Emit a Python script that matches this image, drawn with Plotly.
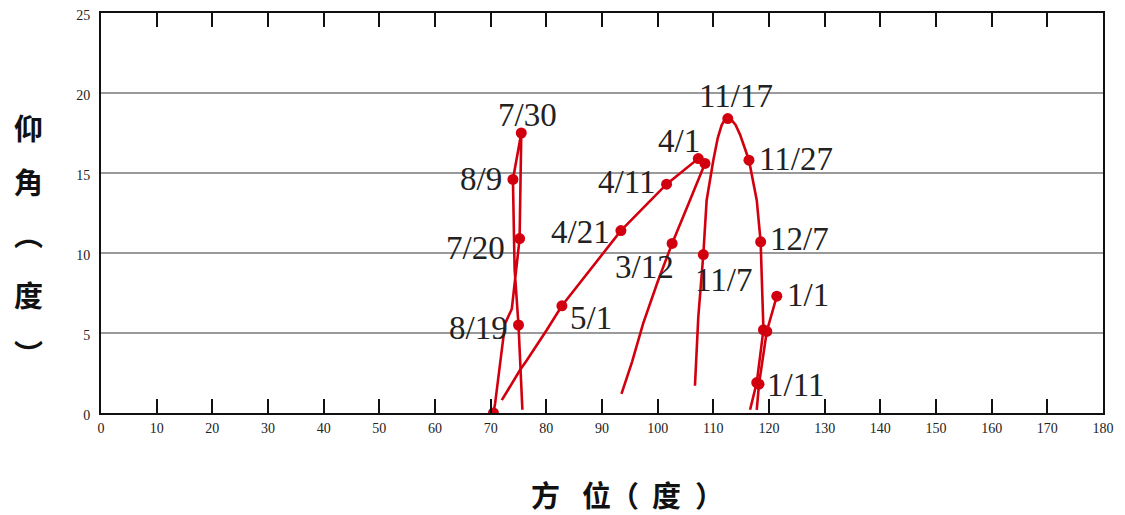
import plotly.graph_objects as go

# ---- data: traced paths (azimuth deg, elevation deg) ----
summer_az = [70.5, 70.8, 72.6, 73.8, 75.2, 75.5, 74.0, 74.3, 75.0, 75.3, 75.7]
summer_el = [0.0, 0.6, 5.6, 6.5, 10.9, 17.5, 14.6, 9.0, 5.5, 2.7, 0.2]

spring_az = [93.5, 95.4, 97.4, 100.0, 102.6, 104.2, 105.8, 108.5, 107.3, 101.6, 93.4, 82.8, 80.1, 76.5, 75.3, 72.0]
spring_el = [1.2, 3.2, 5.6, 8.2, 10.6, 12.0, 13.3, 15.6, 15.9, 14.3, 11.4, 6.7, 5.2, 3.3, 2.7, 0.8]

autumn_az = [106.7, 107.3, 108.2, 108.8, 110.0, 110.8, 111.5, 112.1, 112.6, 113.3, 114.0, 114.8, 116.4, 117.8, 118.5, 119.0, 117.8, 116.6]
autumn_el = [1.7, 6.0, 9.9, 13.3, 15.8, 17.2, 18.0, 18.35, 18.4, 18.3, 18.0, 17.4, 15.8, 13.3, 10.7, 5.2, 1.9, 0.2]

january_az = [121.4, 119.6, 118.2, 117.8]
january_el = [7.3, 5.1, 1.8, 0.2]

# dated (labelled) observation points
date_labels = ["7/30", "8/9", "7/20", "8/19", "5/1", "4/21", "4/11", "4/1",
               "11/17", "11/27", "12/7", "3/12", "11/7", "1/1", "1/11"]
date_az = [75.5, 74.0, 75.2, 75.0, 82.8, 93.4, 101.6, 107.3,
           112.6, 116.4, 118.5, 102.6, 108.2, 121.4, 118.2]
date_el = [17.5, 14.6, 10.9, 5.5, 6.7, 11.4, 14.3, 15.9,
           18.4, 15.8, 10.7, 10.6, 9.9, 7.3, 1.8]

# unlabelled observation points
other_az = [70.5, 108.5, 119.0, 117.8, 119.6]
other_el = [0.0, 15.6, 5.2, 1.9, 5.1]

x_ticks = list(range(0, 181, 10))
y_ticks = [0, 5, 10, 15, 20, 25]

# label offsets in pixels (style only)
label_shift = [(6, 18), (-32, 0), (-44, -9), (-40, -3), (29, -12), (-40, -1), (-40, 2), (-19, 18),
               (8, 23), (47, 1), (39, 3), (-28, -24), (20, -25), (31, 1), (37, -1)]

RED = "#d2000f"
fig = go.Figure()
for xs, ys in [(summer_az, summer_el), (spring_az, spring_el),
               (autumn_az, autumn_el), (january_az, january_el)]:
    fig.add_trace(go.Scatter(x=xs, y=ys, mode="lines",
                             line=dict(color=RED, width=2.6), hoverinfo="skip",
                             showlegend=False))
fig.add_trace(go.Scatter(x=date_az + other_az, y=date_el + other_el, mode="markers",
                         marker=dict(color=RED, size=11), showlegend=False))

lab_font = dict(family="Liberation Serif, Times New Roman, serif", size=33, color="#222222")
for lab, ax_, el, (dx, dy) in zip(date_labels, date_az, date_el, label_shift):
    fig.add_annotation(x=ax_, y=el, xref="x", yref="y", text=lab, showarrow=False,
                       xshift=dx, yshift=dy, font=lab_font)

# page offset: the html body adds an 8px margin
OX, OY = 8, 8
L, T, PW, PH = 101 - OX, 13 - OY, 1002, 400


def px_x(p):
    return (p - OX - L) / PW


def px_y(p):
    return (T + PH - (p - OY)) / PH


cjk = dict(family="Noto Sans CJK TC, Noto Sans CJK SC, sans-serif", size=29, color="#111111", weight="bold")
for ch, py in zip(["仰", "角", "︵", "度", "︶"], [127, 181, 233, 294, 353]):
    fig.add_annotation(x=px_x(28), y=px_y(py), xref="paper", yref="paper",
                       text=ch, showarrow=False, font=cjk, xanchor="center", yanchor="middle")
for ch, px in zip(["方", "位", "（", "度", "）"], [545, 596, 624, 666, 709]):
    fig.add_annotation(x=px_x(px), y=px_y(494), xref="paper", yref="paper",
                       text=ch, showarrow=False, font=cjk, xanchor="center", yanchor="middle")

tick_font = dict(family="Liberation Serif, Times New Roman, serif", size=14, color="#222222")
fig.update_xaxes(range=[0, 180], tickvals=x_ticks, ticktext=[str(v) for v in x_ticks],
                 showgrid=False, zeroline=False, showline=True, linecolor="#111111", linewidth=2,
                 mirror="ticks", ticks="inside", ticklen=14, tickwidth=1.6, tickcolor="#111111",
                 tickfont=tick_font, ticklabelstandoff=1, automargin=False,
                 ticklabeloverflow="allow")
fig.update_yaxes(range=[0, 25], tickvals=y_ticks, ticktext=[str(v) for v in y_ticks],
                 showgrid=True, gridcolor="#9a9a9a", gridwidth=1.6, zeroline=False,
                 showline=True, linecolor="#111111", linewidth=2, mirror=True, ticks="",
                 tickfont=tick_font, ticklabelstandoff=6, ticklabelshift=2, automargin=False,
                 ticklabeloverflow="allow")
fig.update_layout(width=1125 - OX, height=515 - OY,
                  margin=dict(l=L, r=1125 - OX - L - PW, t=T, b=515 - OY - T - PH),
                  paper_bgcolor="white", plot_bgcolor="white")
fig.write_html("out.html")
